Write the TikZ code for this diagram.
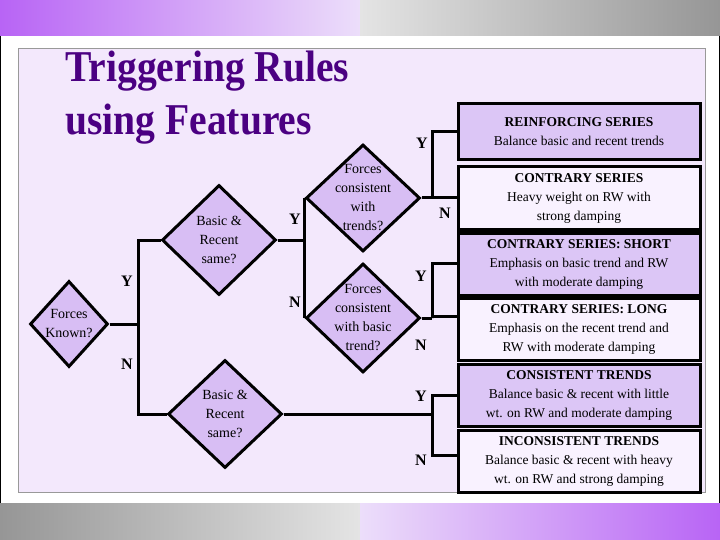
\documentclass[tikz,border=0pt]{standalone}
\usepackage{fontspec}
\setmainfont{Liberation Serif}
\usetikzlibrary{shapes.geometric}
\definecolor{panel}{RGB}{243,232,252}
\definecolor{dfill}{RGB}{216,190,244}
\definecolor{pbox}{RGB}{220,198,246}
\definecolor{wbox}{RGB}{249,242,255}
\definecolor{titlec}{RGB}{75,0,130}
\definecolor{bandp}{RGB}{184,100,245}
\definecolor{bandl}{RGB}{236,222,250}
\definecolor{bandg}{RGB}{228,228,228}
\definecolor{bandd}{RGB}{150,150,150}
\begin{document}
\begin{tikzpicture}[x=1pt,y=-1pt,
  dia/.style={draw,line width=3pt,fill=dfill,diamond,inner sep=0pt,minimum width=114pt,minimum height=110pt},
  dtext/.style={align=center,font=\fontsize{14}{19}\selectfont},
  res/.style={draw,line width=3pt,minimum width=242pt,align=center,font=\fontsize{13.5}{19}\selectfont,inner sep=1pt},
  lab/.style={font=\fontsize{16}{16}\selectfont\bfseries},
  conn/.style={line width=3pt}]
\useasboundingbox (0,0) rectangle (720,540);
\fill[white] (0,0) rectangle (720,540);
\shade[left color=bandp,right color=bandl] (0,0) rectangle (360,36);
\shade[left color=bandg,right color=bandd] (360,0) rectangle (720,36);
\shade[left color=bandd,right color=bandg] (0,503) rectangle (360,540);
\shade[left color=bandl,right color=bandp] (360,503) rectangle (720,540);
\draw[line width=1pt] (0.5,36) -- (0.5,503) (719.5,36) -- (719.5,503);
\draw[fill=panel,draw=gray!80] (18,48) rectangle (705,492);
\node[anchor=base west,text=titlec,font=\fontsize{44}{44}\selectfont\bfseries,xscale=0.9,transform shape] (t1) at (62,82) {Triggering Rules};
\node[anchor=base west,text=titlec,font=\fontsize{44}{44}\selectfont\bfseries,xscale=0.9,transform shape] (t2) at (62,135) {using Features};
% diamonds
\node[dia,minimum width=78pt,minimum height=86pt] (d1) at (69,324) {};
\node[dtext] (d1t) at (69,324) {Forces\\Known?};
\node[dia] (d2) at (219,240) {};
\node[dtext] (d2t) at (219,240) {Basic \&\\Recent\\same?};
\node[dia,minimum height=107pt] (d3) at (363,198) {};
\node[dtext] (d3t) at (363,198) {Forces\\consistent\\with\\trends?};
\node[dia,minimum height=109pt] (d4) at (363,318) {};
\node[dtext] (d4t) at (363,318) {Forces\\consistent\\with basic\\trend?};
\node[dia,minimum height=108pt] (d5) at (225,414) {};
\node[dtext] (d5t) at (225,414) {Basic \&\\Recent\\same?};
% result boxes
\node[res,fill=pbox,minimum height=56pt] (b1) at (579,132) {\textbf{REINFORCING SERIES}\\Balance basic and recent trends};
\node[res,fill=wbox,minimum height=63pt] (b2) at (579,198) {\textbf{CONTRARY SERIES}\\Heavy weight on RW with\\strong damping};
\node[res,fill=pbox,minimum height=62pt] (b3) at (579,264) {\textbf{CONTRARY SERIES: SHORT}\\Emphasis on basic trend and RW\\with moderate damping};
\node[res,fill=wbox,minimum height=62pt] (b4) at (579,329) {\textbf{CONTRARY SERIES: LONG}\\Emphasis on the recent trend and\\RW with moderate damping};
\node[res,fill=pbox,minimum height=62pt] (b5) at (579,395) {\textbf{CONSISTENT TRENDS}\\Balance basic \& recent with little\\wt. on RW and moderate damping};
\node[res,fill=wbox,minimum height=62pt] (b6) at (579,461) {\textbf{INCONSISTENT TRENDS}\\Balance basic \& recent with heavy\\wt. on RW and strong damping};
% connectors
\coordinate (j1) at (138,324);
\draw[conn] (d1.east) -- (j1);
\draw[conn] (d2.west) -| (j1) |- (d5.west);
\coordinate (j2) at (306,240);
\draw[conn] (d2.east) -- (j2);
\draw[conn] (d3.west) -- (d4.west);
\coordinate (j3) at (432,198);
\draw[conn] (d3.east) -- (j3);
\draw[conn] (b1.west) -| (j3) -- (b2.west);
\coordinate (j4) at (432,318);
\draw[conn] (d4.east) -- (j4);
\draw[conn] ([yshift=1pt]b3.west) -| (j4) |- ([yshift=13pt]b4.west);
\coordinate (j5) at (432,414);
\draw[conn] (d5.east) -- (j5);
\draw[conn] (b5.west) -| (j5) |- ([yshift=6pt]b6.west);
% labels
\node[lab] (y1) at (127,281) {Y};
\node[lab] (n1) at (127,364) {N};
\node[lab] (y2) at (295,219) {Y};
\node[lab] (n2) at (295,302) {N};
\node[lab] (y3) at (422,143) {Y};
\node[lab] (n3) at (445,213) {N};
\node[lab] (y4) at (421,276) {Y};
\node[lab] (n4) at (421,345) {N};
\node[lab] (y5) at (421,396) {Y};
\node[lab] (n5) at (421,460) {N};
\end{tikzpicture}
\end{document}
